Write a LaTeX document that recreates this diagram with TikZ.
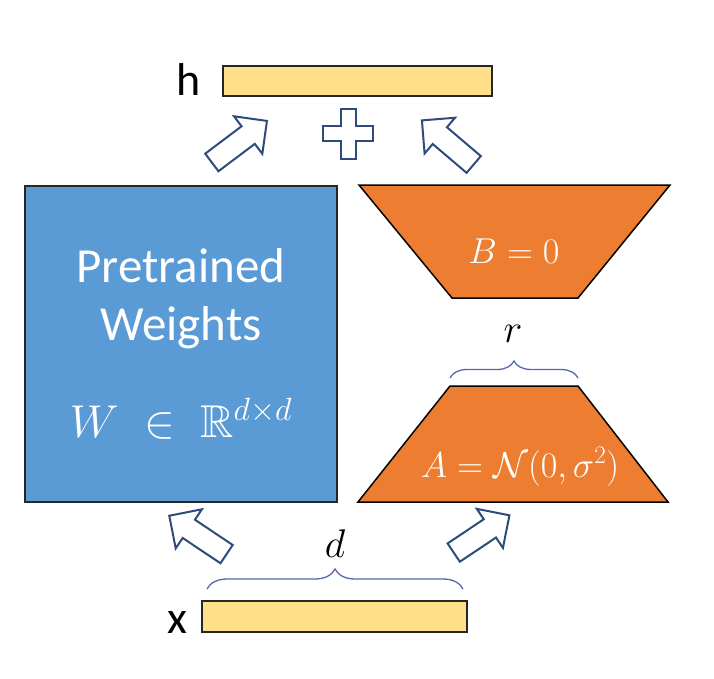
\documentclass[tikz,border=0pt]{standalone}
\usepackage{fix-cm}
\usepackage{amssymb}
\usepackage{fontspec}
\setmainfont{Carlito}
\usetikzlibrary{shapes.arrows,decorations.pathreplacing}
\definecolor{wblue}{HTML}{5B9BD5}
\definecolor{lorange}{HTML}{ED7D31}
\definecolor{vecyel}{HTML}{FFE08A}
\definecolor{arrblue}{HTML}{2F4B7C}
\definecolor{brblue}{HTML}{5568B0}
\tikzset{
  vecbar/.style={draw=black!85, line width=1.5pt, fill=vecyel, inner sep=0pt},
  blockarrow/.style={single arrow, draw=arrblue, line width=2pt, fill=white,
    minimum width=0pt, single arrow head extend=12.5pt,
    single arrow head indent=0pt, single arrow tip angle=90,
    inner xsep=0pt, inner ysep=10pt},
  lbl/.style={anchor=base, inner sep=0pt, font=\fontsize{46}{50}\selectfont},
  wtxt/.style={anchor=base, inner sep=0pt, text=white, font=\fontsize{49}{54}\selectfont},
  mtxt/.style={anchor=base, inner sep=0pt, text=white, font=\fontsize{36}{40}\selectfont},
  dimtxt/.style={anchor=base, inner sep=0pt, font=\fontsize{40}{44}\selectfont},
  brc/.style={draw=brblue, line width=1.3pt, decorate},
  trap/.style={draw=black, line width=1.5pt, fill=lorange},
}
\begin{document}
\begin{tikzpicture}[x=1pt,y=-1pt]
\useasboundingbox[fill=white] (0,0) rectangle (714,679);
% vectors
\node[vecbar, minimum width=269pt, minimum height=30pt] (hbar) at (357.5,81) {};
\node[lbl] (hlab) at (189,96) {h};
\node[vecbar, minimum width=265pt, minimum height=31pt] (xbar) at (334.5,616.5) {};
\node[lbl] (xlab) at (177,633) {x};
% pretrained weights
\node[draw=black!85, line width=1.5pt, fill=wblue, minimum width=312pt, minimum height=316pt, inner sep=0pt] (W) at (181,344) {};
\node[wtxt] (t1) at (181,282) {Pretrained};
\node[wtxt] (t2) at (181,340) {Weights};
\node[anchor=base, inner sep=0pt, text=white, font=\fontsize{46}{50}\selectfont] (t3) at (181,437) {$W \;\in\; \mathbb{R}^{d\times d}$};
% B trapezoid
\path[trap] (359,185) -- (670,185) -- (578,298) -- (452,298) -- cycle;
\node[mtxt] (Btxt) at (514,263) {$B = 0$};
% A trapezoid
\path[trap] (450,386) -- (578,386) -- (668,502) -- (358,502) -- cycle;
\node[mtxt] (Atxt) at (520,477) {$A = \mathcal{N}(0,\sigma^2)$};
% braces
\coordinate (rL) at (450,378);
\coordinate (rR) at (578,378);
\draw[brc, decoration={brace, amplitude=17pt}] (rL) -- (rR);
\node[dimtxt] (rlab) at (513,342) {$r$};
\coordinate (dL) at (207,589);
\coordinate (dR) at (463,589);
\draw[brc, decoration={brace, amplitude=20pt}] (dL) -- (dR);
\node[dimtxt] (dlab) at (335,557) {$d$};
% block arrows
\node[blockarrow, minimum height=69pt, rotate=37] (a1) at (235,145) {};
\node[blockarrow, minimum height=68pt, rotate=139.6] (a2) at (452,146) {};
\node[blockarrow, minimum height=69pt, rotate=146.2] (a3) at (202.5,538) {};
\node[blockarrow, minimum height=67pt, rotate=33.8] (a4) at (477,537) {};
% plus
\draw[draw=arrblue, line width=2pt, fill=white]
  (340.5,109) -- (355.5,109) -- (355.5,126.5) -- (373,126.5) -- (373,141.5)
  -- (355.5,141.5) -- (355.5,159) -- (340.5,159) -- (340.5,141.5)
  -- (323,141.5) -- (323,126.5) -- (340.5,126.5) -- cycle;
\end{tikzpicture}
\end{document}
